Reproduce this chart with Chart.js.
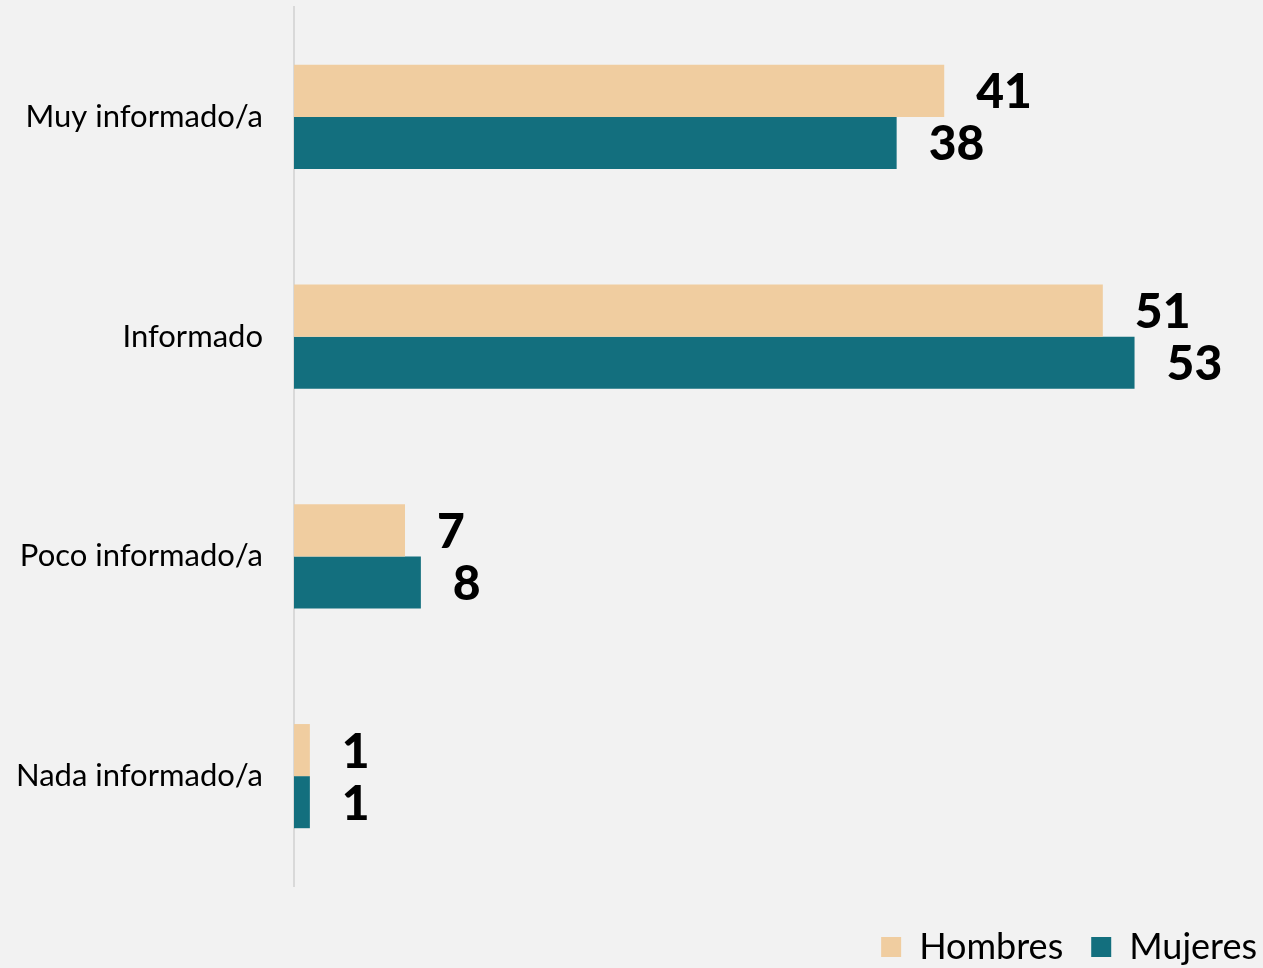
<!DOCTYPE html>
<html lang="es">
<head>
<meta charset="utf-8">
<title>Nivel de información</title>
<script src="https://cdn.jsdelivr.net/npm/chart.js@4/dist/chart.umd.min.js"></script>
<style>
  html, body { margin: 0; padding: 0; background: #f2f2f2; }
  #box { width: 1263px; height: 968px; }
</style>
</head>
<body>
<div id="box"><canvas id="grafico"></canvas></div>
<script>
// --- datos ---
const categorias = ["Muy informado/a", "Informado", "Poco informado/a", "Nada informado/a"];
const hombres = [41, 51, 7, 1];
const mujeres = [38, 53, 8, 1];

// fondo gris de todo el lienzo
const fondo = {
  id: "fondo",
  beforeDraw(chart) {
    const c = chart.ctx;
    c.save();
    c.fillStyle = "#f2f2f2";
    c.fillRect(0, 0, chart.width, chart.height);
    c.restore();
  }
};

// la leyenda va pegada a la esquina inferior derecha
const leyendaEsquina = {
  id: "leyendaEsquina",
  afterLayout(chart) {
    const lg = chart.legend;
    if (!lg) return;
    const dx = 22, dy = 15;
    lg.left += dx; lg.right += dx;
    lg.top += dy; lg.bottom += dy;
  }
};

// etiquetas con el valor a la derecha de cada barra
const valores = {
  id: "valores",
  afterDatasetsDraw(chart) {
    const c = chart.ctx;
    c.save();
    c.font = "900 48px Lato";
    c.fillStyle = "#000";
    c.textAlign = "left";
    c.textBaseline = "middle";
    chart.data.datasets.forEach((ds, i) => {
      chart.getDatasetMeta(i).data.forEach((bar, j) => {
        c.fillText(String(ds.data[j]), bar.x + 32, bar.y + 2);
      });
    });
    c.restore();
  }
};

const ctx = document.getElementById("grafico").getContext("2d");
new Chart(ctx, {
  type: "bar",
  data: {
    labels: categorias,
    datasets: [
      { label: "Hombres", data: hombres, backgroundColor: "#f0cda0", borderWidth: 0 },
      { label: "Mujeres", data: mujeres, backgroundColor: "#136f7e", borderWidth: 0 }
    ]
  },
  options: {
    indexAxis: "y",
    responsive: true,
    maintainAspectRatio: false,
    animation: false,
    categoryPercentage: 0.474,
    barPercentage: 1,
    layout: { padding: { top: 7, right: 0, bottom: 8, left: 0 } },
    scales: {
      x: { display: false, min: 0, max: 61.1 },
      y: {
        grid: { display: false },
        border: { display: true, color: "#d9d9d9", width: 2 },
        ticks: { color: "#000", padding: 23, font: { family: "Lato", size: 31 } },
        afterFit(scale) {
          scale.width = 294;
          scale.paddingTop = 0;
          scale.paddingBottom = 0;
        }
      }
    },
    plugins: {
      tooltip: { enabled: false },
      legend: {
        position: "bottom",
        align: "end",
        labels: {
          color: "#000",
          boxWidth: 20,
          boxHeight: 20,
          padding: 28,
          font: { family: "Lato", size: 36 }
        }
      }
    }
  },
  plugins: [fondo, leyendaEsquina, valores]
});
</script>
</body>
</html>
